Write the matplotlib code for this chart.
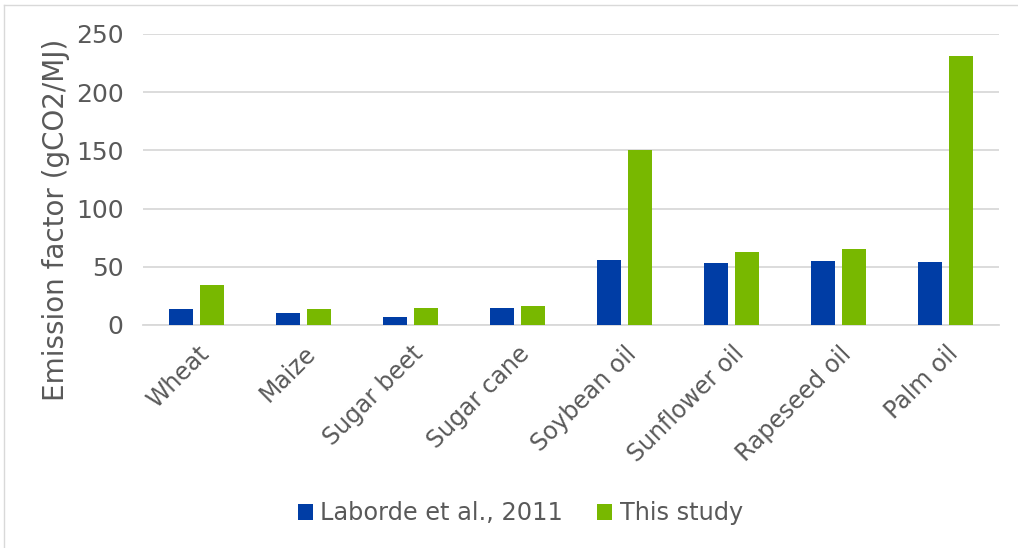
import matplotlib
matplotlib.use("Agg")
import matplotlib.pyplot as plt
from matplotlib.lines import Line2D
import numpy as np

## Data
crops    = ["Wheat", "Maize", "Sugar beet", "Sugar cane", "Soybean oil",
            "Sunflower oil", "Rapeseed oil", "Palm oil"]
laborde  = [13.5, 10, 7, 15, 56, 53, 55, 54]
study    = [34, 13.5, 14.5, 16.5, 150, 63, 65, 231]
y_ticks  = [0, 50, 100, 150, 200, 250]

BLUE  = "#003da5"
GREEN = "#78b800"
GREY  = "#595959"

plt.rcParams["font.family"] = ["DejaVu Sans"]

fig = plt.figure(figsize=(10.18, 5.48), dpi=100)
ax = fig.add_axes([0.1405, 0.407, 0.841, 0.531])

x = np.arange(len(crops))
w = 0.224
ax.bar(x - 0.145, laborde, w, color=BLUE, label="Laborde et al., 2011", zorder=3)
ax.bar(x + 0.145, study, w, color=GREEN, label="This study", zorder=3)

ax.set_xlim(-0.5, len(crops) - 0.5)
ax.set_ylim(0, 250)
ax.set_yticks(y_ticks)
ax.yaxis.grid(True, color="#d9d9d9", linewidth=1.3, zorder=0)
ax.set_xticks(x)
ax.set_xticklabels(crops, rotation=45, ha="right", rotation_mode="anchor",
                   fontsize=17, color=GREY)
ax.tick_params(axis="y", labelsize=18, labelcolor=GREY, length=0, pad=14)
ax.tick_params(axis="x", length=0, pad=12)
for s in ["top", "right", "left"]:
    ax.spines[s].set_visible(False)
ax.spines["bottom"].set_color("#d9d9d9")
ax.spines["bottom"].set_linewidth(1.3)

# y label centred on the whole plot block, not just the axes
ax.set_ylabel("Emission factor (gCO2/MJ)", fontsize=20, color=GREY)
ax.yaxis.set_label_coords(-0.085, 0.36)

fig.legend(loc="center", bbox_to_anchor=(0.511, 0.063), ncol=2, frameon=False,
           fontsize=17.3, labelcolor=GREY, handlelength=0.62, handleheight=0.62,
           handletextpad=0.3, columnspacing=1.45)

# thin frame around the chart area
fig.add_artist(Line2D([4 / 1018, 4 / 1018], [0, 1 - 5 / 548],
                      transform=fig.transFigure, color="#d9d9d9", lw=1))
fig.add_artist(Line2D([4 / 1018, 1], [1 - 5 / 548, 1 - 5 / 548],
                      transform=fig.transFigure, color="#d9d9d9", lw=1))

fig.savefig("out.png", dpi=100)
